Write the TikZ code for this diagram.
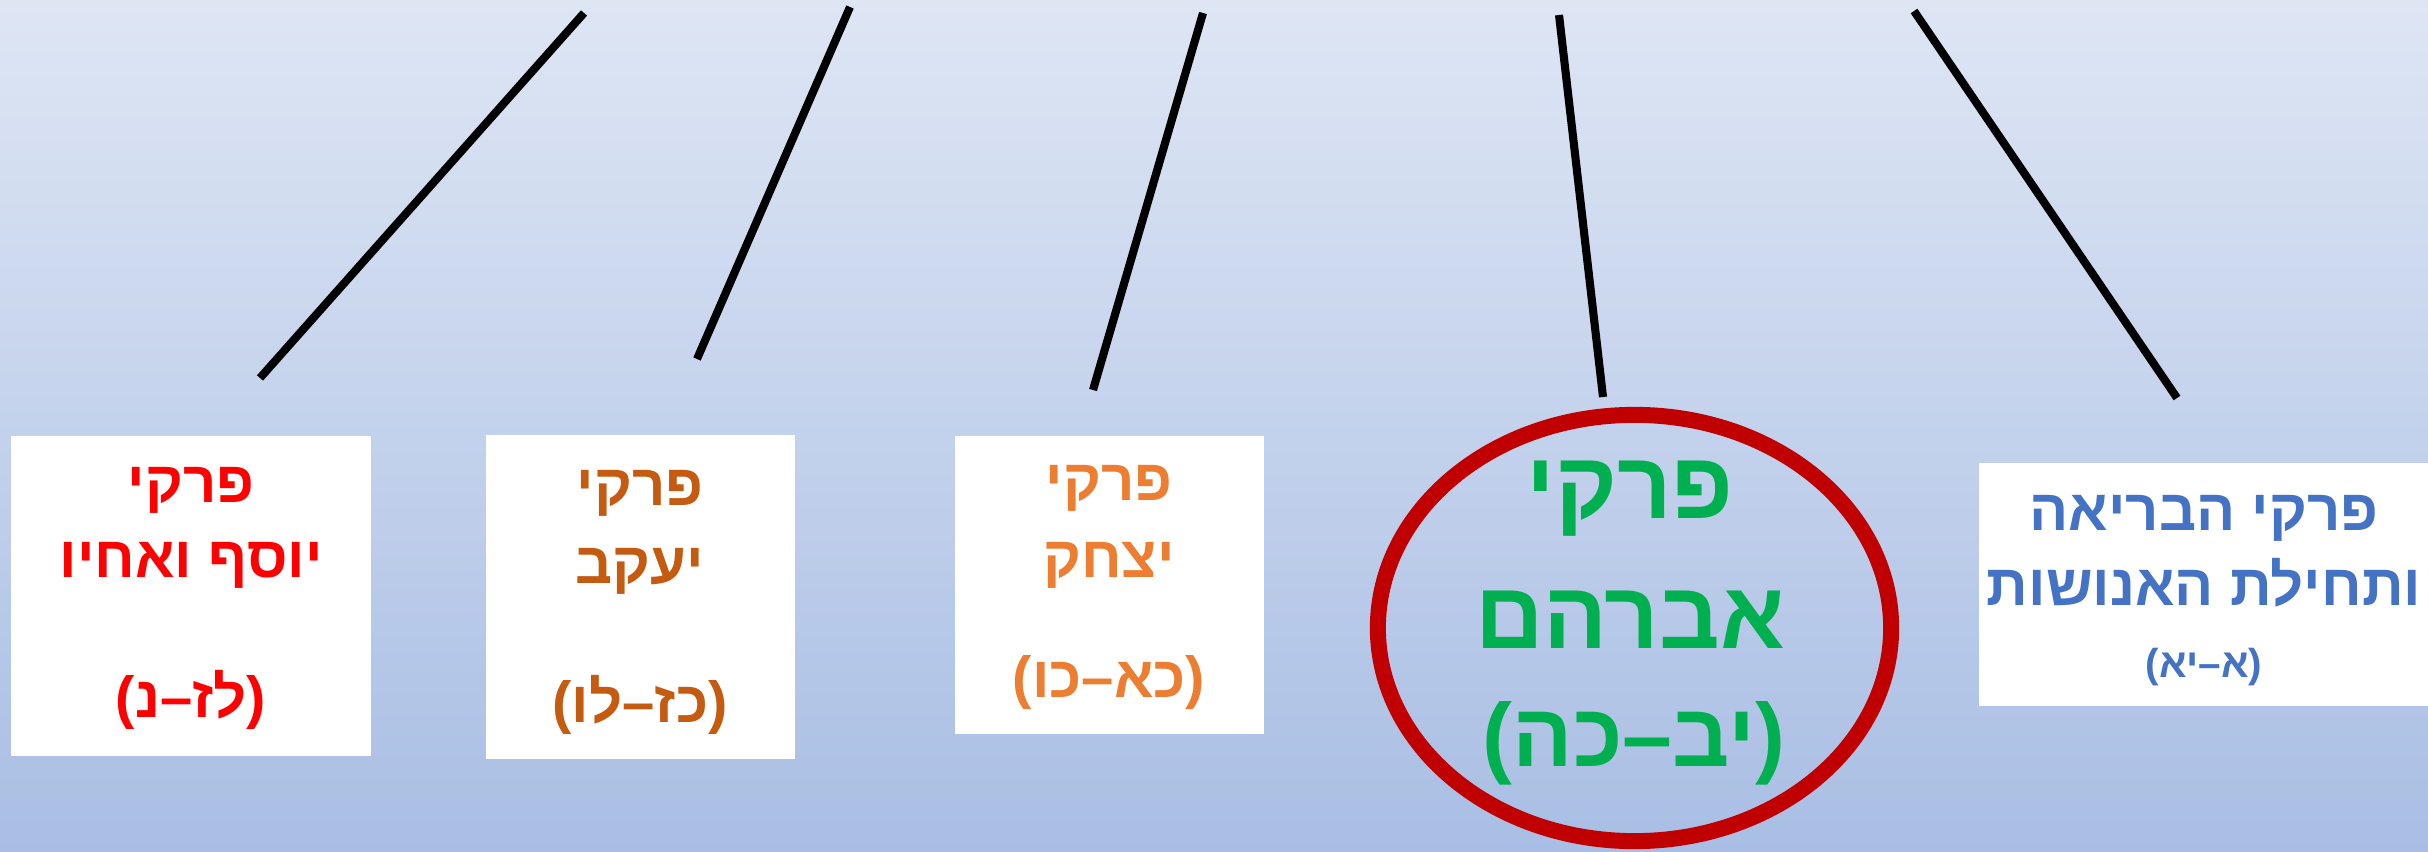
\documentclass[tikz,border=0pt]{standalone}
\usepackage{fontspec}
\usetikzlibrary{shapes.geometric}
\TeXXeTstate=1
\newfontfamily\heb[Script=Hebrew]{Liberation Sans}
\definecolor{bgtop}{RGB}{222,230,244}
\definecolor{bgbot}{RGB}{169,190,228}
\definecolor{cred}{HTML}{FF0000}
\definecolor{cbrown}{HTML}{C55A11}
\definecolor{corange}{HTML}{ED7D31}
\definecolor{cgreen}{HTML}{00B050}
\definecolor{cblue}{HTML}{4472C4}
\definecolor{ering}{HTML}{C00000}
\tikzset{
  box/.style={rectangle, fill=white, draw=none, inner sep=0pt},
  ln/.style={anchor=base, inner sep=0pt, font=\heb\bfseries\fontsize{16.5}{18}\selectfont},
  bigln/.style={anchor=base, inner sep=0pt, font=\heb\bfseries\fontsize{27}{30}\selectfont},
  smallln/.style={anchor=base, inner sep=0pt, font=\heb\bfseries\fontsize{11.5}{13}\selectfont},
  conn/.style={line width=2.3pt, black},
}
\begin{document}
\begin{tikzpicture}[x=0.01cm,y=-0.01cm]
\useasboundingbox (0,0) rectangle (2428,852);
\shade[top color=bgtop, bottom color=bgbot] (0,0) rectangle (2428,852);
% connectors
\coordinate (a1) at (584,13);   \coordinate (z1) at (260,378);
\coordinate (a2) at (850,7);    \coordinate (z2) at (697,359);
\coordinate (a3) at (1203,13);  \coordinate (z3) at (1093,390);
\coordinate (a4) at (1559,15);  \coordinate (z4) at (1603,397);
\coordinate (a5) at (1914,11);  \coordinate (z5) at (2177,398);
\draw[conn] (a1) -- (z1);
\draw[conn] (a2) -- (z2);
\draw[conn] (a3) -- (z3);
\draw[conn] (a4) -- (z4);
\draw[conn] (a5) -- (z5);
% boxes
\node[box, minimum width=3.60cm, minimum height=3.20cm] (b1) at (191,596) {};
\node[box, minimum width=3.09cm, minimum height=3.24cm] (b2) at (640.5,597) {};
\node[box, minimum width=3.09cm, minimum height=2.98cm] (b3) at (1109.5,585) {};
\node[box, minimum width=4.61cm, minimum height=2.43cm] (b5) at (2209.5,584.5) {};
\node[ellipse, draw=ering, line width=4.55pt, minimum width=5.13cm, minimum height=4.26cm, inner sep=0pt] (e4) at (1634.5,628) {};
% box 1
\node[ln, text=cred] (t1a) at (191,502) {\beginR פרקי\endR};
\node[ln, text=cred] (t1b) at (191,577) {\beginR יוסף ואחיו\endR};
\node[ln, text=cred] (t1c) at (191,717) {\beginR (לז–נ)\endR};
% box 2
\node[ln, text=cbrown] (t2a) at (640,505) {\beginR פרקי\endR};
\node[ln, text=cbrown] (t2b) at (640,583) {\beginR יעקב\endR};
\node[ln, text=cbrown] (t2c) at (640,722) {\beginR (כז–לו)\endR};
% box 3
\node[ln, text=corange] (t3a) at (1109,500) {\beginR פרקי\endR};
\node[ln, text=corange] (t3b) at (1109,577) {\beginR יצחק\endR};
\node[ln, text=corange] (t3c) at (1109,697) {\beginR (כא–כו)\endR};
% ellipse
\node[bigln, text=cgreen] (t4a) at (1630,518) {\beginR פרקי\endR};
\node[bigln, text=cgreen] (t4b) at (1630,648) {\beginR אברהם\endR};
\node[bigln, text=cgreen, font=\heb\bfseries\fontsize{25.5}{28}\selectfont] (t4c) at (1634,766) {\beginR (יב–כה)\endR};
% box 5
\node[ln, text=cblue] (t5a) at (2204,530) {\beginR פרקי הבריאה\endR};
\node[ln, text=cblue] (t5b) at (2204,605) {\beginR ותחילת האנושות\endR};
\node[smallln, text=cblue] (t5c) at (2204,677) {\beginR (א–יא)\endR};
\end{tikzpicture}
\end{document}
